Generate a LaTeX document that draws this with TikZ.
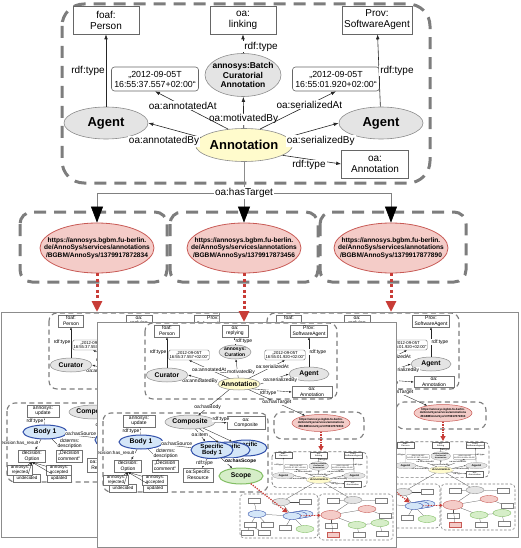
\documentclass[tikz,border=0pt]{standalone}
\usepackage{fontspec}
\setmainfont{Liberation Sans}
\usetikzlibrary{shapes.geometric,arrows.meta}

\definecolor{dashgrey}{RGB}{125,125,125}
\definecolor{nodegrey}{RGB}{228,228,228}
\definecolor{annoyellow}{RGB}{255,251,204}
\definecolor{urlpink}{RGB}{244,204,200}
\definecolor{urledge}{RGB}{200,90,85}
\definecolor{bodyblue}{RGB}{212,230,248}
\definecolor{bodyedge}{RGB}{50,80,170}
\definecolor{scopegreen}{RGB}{214,238,200}
\definecolor{scopeedge}{RGB}{130,190,100}
\definecolor{arrowred}{RGB}{200,60,55}

\tikzset{
  % annotation graph (top, and its small copies)
  gline/.style={line width=0.6pt},
  tline/.style={draw=black!85, gline},
  tarr/.style={tline, -{Latex[length=5pt,width=3.6pt]}},
  tdash/.style={draw=dashgrey, line width=3pt, dash pattern=on 12pt off 8pt, rounded corners=22pt},
  tbox/.style={draw=black!60, gline, fill=white, align=center, minimum width=66pt, minimum height=28pt, inner sep=1pt, font=\fontsize{10}{11}\selectfont},
  tdate/.style={tbox, rounded corners=3pt, minimum width=87pt, minimum height=24pt, font=\fontsize{8.8}{10}\selectfont},
  tell/.style={ellipse, draw=black!45, gline, fill=nodegrey, minimum width=84pt, minimum height=32pt, inner sep=0pt, font=\bfseries\fontsize{13}{14}\selectfont},
  tlab/.style={fill=white, inner sep=1pt, font=\fontsize{10}{11}\selectfont},
  % targets
  urlframe/.style={draw=dashgrey, line width=3pt, dash pattern=on 12pt off 8pt, rounded corners=12pt},
  urlell/.style={ellipse, draw=urledge, line width=0.8pt, fill=urlpink, minimum width=114pt, minimum height=50pt, inner sep=0pt},
  urltext/.style={align=center, font=\bfseries\fontsize{6.6}{7.6}\selectfont},
  bigarr/.style={draw=black!50, line width=0.6pt, -{Triangle[width=12pt,length=16pt,color=black]}},
  reddot/.style={draw=arrowred, line width=3pt, dash pattern=on 3pt off 2.5pt, -{Triangle[width=10pt,length=11pt]}},
  % screenshots
  panel/.style={draw=black!45, line width=0.8pt},
  sdash/.style={draw=dashgrey, line width=1.1pt, dash pattern=on 5pt off 3.5pt, rounded corners=8pt},
  sbox/.style={draw=black!55, line width=0.4pt, fill=white, align=center, inner sep=0.8pt, minimum height=12pt, font=\fontsize{5}{5.6}\selectfont},
  sell/.style={ellipse, draw=black!45, line width=0.5pt, fill=nodegrey, align=center, inner xsep=-3pt, inner ysep=0pt, minimum height=14pt, font=\bfseries\fontsize{6.8}{7.2}\selectfont},
  sblue/.style={sell, fill=bodyblue, draw=bodyedge, line width=1pt},
  sgreen/.style={sell, fill=scopegreen, draw=scopeedge, line width=1pt},
  slab/.style={fill=white, inner sep=0.4pt, align=center, font=\fontsize{5}{5.5}\selectfont},
  sarr/.style={draw=black!85, line width=0.35pt, -{Latex[length=2.6pt,width=2pt]}},
  sred/.style={draw=arrowred, line width=1.3pt, dash pattern=on 1.3pt off 1.2pt, -{Triangle[width=5pt,length=5pt]}},
  tinyurl/.style={align=center, font=\bfseries\fontsize{2.9}{3.3}\selectfont},
  % copies inside the screenshots
  ndash/.style={draw=dashgrey, line width=0.6pt, dash pattern=on 2.5pt off 1.8pt, rounded corners=4pt},
  nbox/.style={draw=black!50, line width=0.3pt, fill=white, minimum width=12pt, minimum height=5pt, inner sep=0pt},
  nell/.style={ellipse, draw=black!45, line width=0.4pt, fill=nodegrey, minimum width=18pt, minimum height=7pt, inner sep=0pt},
  nline/.style={draw=black!70, line width=0.25pt},
  nred/.style={draw=arrowred, line width=0.8pt, dash pattern=on 0.8pt off 0.8pt, -{Triangle[width=3pt,length=3pt]}},
  pics/annograph/.style={code={
    % dashed frame
    \draw[tdash] (62,4) rectangle (430,183);
    % classes
    \node[tbox] (-foaf) at (106,20) {foaf:\\Person};
    \node[tbox] (-link) at (243,20) {oa:\\linking};
    \node[tbox, minimum width=70pt] (-prov) at (377,20) {Prov:\\SoftwareAgent};
    \node[tbox, minimum width=67pt] (-oaann) at (375,164) {oa:\\Annotation};
    % dates
    \node[tdate] (-atdate) at (155,79) {„2012-09-05T\\16:55:37.557+02:00“};
    \node[tdate] (-serdate) at (336,79) {„2012-09-05T\\16:55:01.920+02:00“};
    % resources
    \node[tell, minimum width=76pt, minimum height=43pt, label={[align=center, font=\bfseries\fontsize{8.5}{9.6}\selectfont]center:{annosys:Batch\\Curatorial\\Annotation}}] (-batch) at (243,75) {};
    \node[tell] (-agentL) at (106,123) {Agent};
    \node[tell] (-agentR) at (381,123) {Agent};
    \node[tell, fill=annoyellow, minimum width=82pt, minimum height=33pt] (-annot) at (244,145) {Annotation};
    % properties
    \draw[tarr] (-agentL) -- node[tlab, left, midway] {rdf:type} (-foaf);
    \draw[tarr] (-agentR) -- node[tlab, right, midway] {rdf:type} (-prov);
    \draw[tarr] (-batch) -- node[tlab, right, pos=.35] {rdf:type} (-link);
    \draw[tarr] (-annot) -- node[tlab, pos=.28] {oa:motivatedBy} (-batch);
    \draw[tarr] (-annot.135) -- node[tlab, pos=.62] {oa:annotatedAt} (-atdate.south);
    \draw[tarr] (-annot.45) -- node[tlab, pos=.65] {oa:serializedAt} (-serdate.south);
    \draw[tarr] (-annot.170) -- node[tlab, below=8pt, pos=.7] {oa:annotatedBy} (-agentL.east);
    \draw[tarr] (-annot.10) -- node[tlab, below=7pt, pos=.65] {oa:serializedBy} (-agentR.west);
    \draw[tarr] (-annot.-15) -- node[tlab, below, pos=.45] {rdf:type} (-oaann.west);
  }},
  pics/shot/.style={code={
    \fill[white] (0,0) rectangle (299,225);
    \begin{scope}
      \clip (0,0) rectangle (299,225);
      % annotation
      \draw[sdash] (48,1) rectangle (240,77);
      \node[sbox, minimum width=25pt] (-foaf) at (70,9) {foaf:\\Person};
      \node[sbox, minimum width=26pt] (-reply) at (138,9) {oa:\\replying};
      \node[sbox, minimum width=37pt] (-prov) at (212,9) {Prov:\\SoftwareAgent};
      \node[sbox, minimum width=38pt, minimum height=10pt, rounded corners=1.5pt, font=\fontsize{4.2}{4.6}\selectfont] (-atdate) at (92,33) {„2012-09-05T\\16:55:37.557+02:00“};
      \node[sbox, minimum width=40pt, minimum height=10pt, rounded corners=1.5pt, font=\fontsize{4.2}{4.6}\selectfont] (-serdate) at (188,33) {„2012-09-05T\\16:55:01.920+02:00“};
      \node[sell, minimum width=32pt, font=\bfseries\fontsize{5}{5.4}\selectfont] (-curation) at (138,30) {annosys:\\Curation};
      \node[sell, minimum width=42pt] (-curator) at (70,53) {Curator};
      \node[sell, minimum width=40pt] (-agent) at (212,52) {Agent};
      \node[sell, minimum width=42pt, minimum height=12pt, fill=annoyellow] (-annot) at (142,62) {Annotation};
      \node[sbox, minimum width=40pt, minimum height=11pt] (-oaann) at (215,70) {oa:\\Annotation};
      \draw[sarr] (-curator) -- node[slab, left, midway] {rdf:type} (-foaf);
      \draw[sarr] (-agent) -- node[slab, right, midway] {rdf:type} (-prov);
      \draw[sarr] (-curation) -- node[slab, right, midway] {rdf:type} (-reply);
      \draw[sarr] (-annot) -- node[slab, pos=.3] {oa:motivatedBy} (-curation);
      \draw[sarr] (-annot.150) -- node[slab, pos=.5] {oa:annotatedAt} (-atdate.south);
      \draw[sarr] (-annot.30) -- node[slab, pos=.65] {oa:serializedAt} (-serdate.south);
      \draw[sarr] (-annot.180) -- node[slab, below, pos=.6] {oa:annotatedBy} (-curator.east);
      \draw[sarr] (-annot.0) -- node[slab, below, pos=.7] {oa:serializedBy} (-agent.west);
      \draw[sarr] (-annot.-20) -- node[slab, below, pos=.4] {rdf:type} (-oaann.west);
      % bodies
      \draw[sdash] (6,91) rectangle (171,170);
      \node[sbox, minimum width=32pt] (-upd) at (42,99) {annosys:\\update};
      \node[sell, minimum width=50pt] (-comp) at (93,100) {Composite};
      \node[sbox, minimum width=38pt, minimum height=13pt] (-ocomp) at (149,101) {oa:\\Composite};
      \node[sblue, minimum width=44pt] (-body) at (44,120) {Body 1};
      \node[sblue, minimum width=42pt, minimum height=16pt, font=\bfseries\fontsize{6}{6.4}\selectfont] (-specn) at (149,126) {Specific\\n};
      \node[sblue, minimum width=42pt, minimum height=16pt, font=\bfseries\fontsize{6}{6.4}\selectfont] (-spec2) at (132,128) {Specific\\2};
      \node[sblue, minimum width=42pt, minimum height=16pt, font=\bfseries\fontsize{6}{6.4}\selectfont] (-spec1) at (115,128) {Specific\\Body 1};
      \node[sbox, minimum width=30pt, minimum height=14pt] (-osr) at (101,153) {oa:Specific\\Resource};
      \node[sgreen, minimum width=44pt, minimum height=16pt] (-scope) at (144,154) {Scope};
      \node[sbox, minimum width=27pt] (-opt) at (31,144) {decision:\\Option};
      \node[sbox, minimum width=26pt] (-dcom) at (68,144) {„Decision\\comment“};
      \node[sbox, minimum width=27pt, minimum height=8pt, font=\fontsize{4.5}{5}\selectfont] (-undec) at (26,166) {undecided};
      \node[sbox, minimum width=24pt, minimum height=8pt, font=\fontsize{4.5}{5}\selectfont] (-updt) at (58,166) {updated};
      \node[sbox, minimum width=25pt, minimum height=10pt, font=\fontsize{4.5}{5}\selectfont] (-rej) at (19,158) {annosys:\\rejected};
      \node[sbox, minimum width=25pt, minimum height=10pt, font=\fontsize{4.5}{5}\selectfont] (-acc) at (58,158) {annosys:\\accepted};
      \draw[sarr] (-annot.-150) -- node[slab, pos=.7] {oa:hasBody} (-comp);
      \draw[sarr] (-body) -- node[slab, left, midway] {rdf:type} (-upd);
      \draw[sarr] (-comp) -- node[slab, above, midway] {rdf:type} (-ocomp);
      \draw[sarr] (-comp) -- (-specn);
      \draw[sarr] (-comp) -- (-spec2);
      \draw[sarr] (-comp) -- node[slab, pos=.45] {oa:item} (-spec1);
      \draw[sarr] (-spec1) -- node[slab, above, midway] {oa:hasSource} (-body);
      \draw[sarr] (-spec1) -- node[slab, pos=.5] {rdf:type} (-osr);
      \draw[sarr] (-spec1) -- node[slab, right, pos=.3, font=\bfseries\fontsize{5}{5.5}\selectfont] {oa:hasScope} (-scope);
      \draw[sarr] (-body) -- node[slab, left, pos=.4, font=\fontsize{4.6}{5}\selectfont] {decision:has\_result} (-opt);
      \draw[sarr] (-body) -- node[slab, right, pos=.45] {dcterms:\\description} (-dcom);
      \draw[sarr] (-rej) -- (-opt.south);
      \draw[sarr] (-acc) -- (-opt.south);
      \draw[sarr] (-undec) -- (-opt.south);
      \draw[sarr] (-updt) -- (-opt.south);
      % target
      \draw[sdash] (177,90) rectangle (267,117);
      \node[sell, fill=urlpink, draw=urledge, minimum width=58pt, minimum height=17pt, label={[tinyurl]center:{https://annosys.bgbm.fu-berlin.\\de/AnnoSys/services/annotations\\/BGBM/AnnoSys/1379917872834}}] (-tgt) at (224,101) {};
      \draw[sarr] (-annot.-30) -- node[slab, pos=.5] {oa:hasTarget} (-tgt);
      % small copy of the annotation
      \coordinate (-nesttop) at (224,129);
      \begin{scope}[shift={(159,129)}, xscale=.258, yscale=.2]
        \pic[transform shape, gline/.style={line width=.2pt},
             tarr/.style={tline, -{Latex[length=1.2pt,width=1pt]}},
             tdash/.style={draw=dashgrey, line width=.7pt, dash pattern=on 3pt off 2pt, rounded corners=5pt},
             tdate/.append style={rounded corners=.5pt}] (-nest) {annograph};
      \end{scope}
      % small copy of the bodies
      \draw[ndash] (143,172) rectangle (221,216);
      \draw[ndash] (222,172) rectangle (296,218);
      \node[nbox] (-nupd) at (157,179) {};
      \node[nell] (-ncomp) at (184,180) {};
      \node[nbox] (-nocomp) at (208,180) {};
      \node[nell, fill=bodyblue, draw=bodyedge] (-nbody) at (160,192) {};
      \node[nell, fill=bodyblue, draw=bodyedge] (-nspecn) at (207,192) {};
      \node[nell, fill=bodyblue, draw=bodyedge] (-nspec2) at (201,193) {};
      \node[nell, fill=bodyblue, draw=bodyedge] (-nspec) at (195,194) {};
      \node[nbox] (-nopt) at (153,203) {};
      \node[nbox] (-ndcom) at (170,203) {};
      \node[nbox] (-nosr) at (188,206) {};
      \node[nell, fill=scopegreen, draw=scopeedge] (-nscope) at (208,207) {};
      \node[nbox] (-nrej) at (150,211) {};
      \node[nbox] (-nacc) at (167,211) {};
      \node[nbox] (-nbox1) at (236,179) {};
      \node[nell] (-ncomp2) at (256,178) {};
      \node[nbox] (-nbox2) at (284,179) {};
      \node[nell, fill=urlpink, draw=urledge, minimum width=20pt, minimum height=9pt] (-npink) at (234,193) {};
      \node[nell, fill=urlpink, draw=urledge] (-npink2) at (270,187) {};
      \node[nbox] (-nbox3) at (288,194) {};
      \node[nbox] (-nbox4) at (234,204) {};
      \node[nell, fill=scopegreen, draw=scopeedge] (-ngreen) at (260,203) {};
      \node[nell, fill=scopegreen, draw=scopeedge] (-ngreen2) at (283,201) {};
      \node[nbox, fill=urlpink, draw=urledge] (-npbox) at (236,213) {};
      \node[nbox] (-nbox5) at (262,213) {};
      \node[nbox] (-nbox6) at (285,212) {};
      \draw[nline] (-nest-annot) -- (-ncomp);
      \draw[nline] (-nest-annot) -- (-ncomp2);
      \draw[nline] (-ncomp) -- (-nocomp);
      \draw[nline] (-ncomp) -- (-nspec);
      \draw[nline] (-nspec) -- (-nbody);
      \draw[nline] (-nbody) -- (-nupd);
      \draw[nline] (-nbody) -- (-nopt);
      \draw[nline] (-nbody) -- (-ndcom);
      \draw[nline] (-nspec) -- (-nosr);
      \draw[nline] (-nspec) -- (-nscope);
      \draw[nline] (-nopt) -- (-nrej);
      \draw[nline] (-nopt) -- (-nacc);
      \draw[nline] (-ncomp2) -- (-nbox1);
      \draw[nline] (-ncomp2) -- (-nbox2);
      \draw[nline] (-ncomp2) -- (-npink);
      \draw[nline] (-npink) -- (-npink2);
      \draw[nline] (-npink2) -- (-nbox3);
      \draw[nline] (-npink) -- (-nbox4);
      \draw[nline] (-npink) -- (-ngreen);
      \draw[nline] (-ngreen) -- (-ngreen2);
      \draw[nline] (-npink) -- (-npbox);
      \draw[nline] (-ngreen) -- (-nbox5);
      \draw[nline] (-ngreen2) -- (-nbox6);
      % red links
      \draw[sred] (-tgt) -- (-nesttop);
      \draw[sred] (-scope) -- (-nspec);
      \draw[nred] (-nspec) -- (-npink);
    \end{scope}
    \draw[panel] (0,0) rectangle (299,225);
  }}
}

\begin{document}
\begin{tikzpicture}[x=1pt, y=-1pt]
\useasboundingbox (0,0) rectangle (520,548);
% screenshots
\pic (shotA) at (1,312) {shot};
\pic (shotC) at (219,312) {shot};
\pic (shotB) at (97,322) {shot};
% annotation graph
\pic (top) at (0,0) {annograph};
% targets
\draw[urlframe] (20,212) rectangle (167,282);
\draw[urlframe] (170,212) rectangle (318,282);
\draw[urlframe] (320,212) rectangle (466,282);
\node[urlell, label={[urltext]center:{https://annosys.bgbm.fu-berlin.\\de/AnnoSys/services/annotations\\/BGBM/AnnoSys/1379917872834}}] (urlA) at (97,248) {};
\node[urlell, label={[urltext]center:{https://annosys.bgbm.fu-berlin.\\de/AnnoSys/services/annotations\\/BGBM/AnnoSys/1379917873456}}] (urlB) at (244,248) {};
\node[urlell, label={[urltext]center:{https://annosys.bgbm.fu-berlin.\\de/AnnoSys/services/annotations\\/BGBM/AnnoSys/1379917877890}}] (urlC) at (391,248) {};
% oa:hasTarget
\node[tlab] (hastarget) at (244,193) {oa:hasTarget};
\draw[gline, draw=black!45] (top-annot) -- (hastarget);
\draw[bigarr] (hastarget.west) -| (urlA);
\draw[bigarr] (hastarget) -- (urlB);
\draw[bigarr] (hastarget.east) -| (urlC);
% into the screenshots
\coordinate (shotAtop) at (97,312);
\coordinate (shotBtop) at (244,322);
\coordinate (shotCtop) at (391,312);
\draw[reddot] (urlA) -- (shotAtop);
\draw[reddot] (urlB) -- (shotBtop);
\draw[reddot] (urlC) -- (shotCtop);
\end{tikzpicture}
\end{document}
